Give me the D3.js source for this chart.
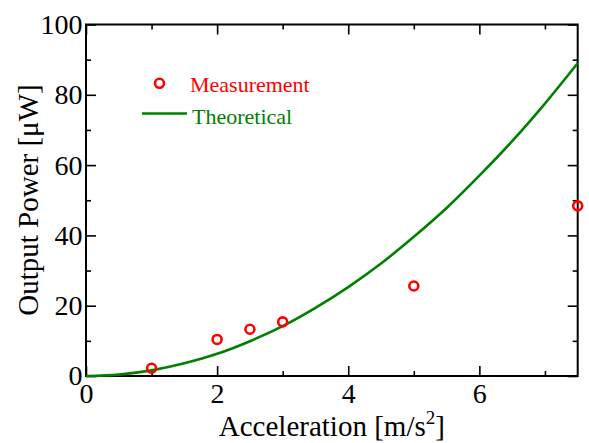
<!DOCTYPE html>
<html>
<head>
<meta charset="utf-8">
<script src="https://cdn.jsdelivr.net/npm/d3@7"></script>
<style>
  body { margin: 0; background: #fff; }
  text { font-family: "Liberation Serif", "Times New Roman", serif; }
</style>
</head>
<body>
<div id="chart"></div>
<script>
(function() {

// measured points
var measX = [1, 2, 2.5, 3, 5, 7.5];
var measY = [2.2, 10.4, 13.3, 15.4, 25.6, 48.4];

// theoretical curve
var theoX = [0, 0.5, 1, 1.5, 2, 2.5, 3, 3.5, 4, 4.5, 5, 5.5, 6, 6.5, 7, 7.5];
var theoY = [0, 0.4, 1.6, 3.6, 6.3, 9.9, 14.2, 19.4, 25.3, 32.0, 39.6, 47.8, 57.0, 66.8, 77.5, 89.0];

var xMajor = [0, 2, 4, 6];
var xMinor = [1, 3, 5, 7];
var yMajor = [0, 20, 40, 60, 80, 100];
var yMinor = [10, 30, 50, 70, 90];

var legendLabels = ['Measurement', 'Theoretical'];

var width = 589, height = 443;
var margin = {top: 24.5, right: 11.3, bottom: 67, left: 86};
var w = width - margin.left - margin.right;
var h = height - margin.top - margin.bottom;

var svg = d3.select('#chart')
    .append('svg')
    .attr('width', width)
    .attr('height', height);

var g = svg.append('g')
    .attr('transform', 'translate(' + margin.left + ',' + margin.top + ')');

var x = d3.scaleLinear().domain([0, 7.5]).range([0, w]);
var y = d3.scaleLinear().domain([0, 100]).range([h, 0]);

//axes with inward ticks
function styleAxis(sel) {
    sel.select('.domain').remove();
    sel.selectAll('line').attr('stroke', '#000').attr('stroke-width', 1.6);
    sel.selectAll('text').style('font-size', '28px').attr('fill', '#000');
}

g.append('g')
    .attr('transform', 'translate(0,' + h + ')')
    .call(d3.axisBottom(x).tickValues(xMajor).tickSize(-10).tickPadding(7).tickFormat(d3.format('d')))
    .call(styleAxis);
g.append('g')
    .attr('transform', 'translate(0,' + h + ')')
    .call(d3.axisBottom(x).tickValues(xMinor).tickSize(-5).tickFormat(''))
    .call(styleAxis);
g.append('g')
    .call(d3.axisTop(x).tickValues(xMajor).tickSize(-10).tickFormat(''))
    .call(styleAxis);
g.append('g')
    .call(d3.axisTop(x).tickValues(xMinor).tickSize(-5).tickFormat(''))
    .call(styleAxis);

g.append('g')
    .call(d3.axisLeft(y).tickValues(yMajor).tickSize(-10).tickPadding(3.5).tickFormat(d3.format('d')))
    .call(styleAxis);
g.append('g')
    .call(d3.axisLeft(y).tickValues(yMinor).tickSize(-5).tickFormat(''))
    .call(styleAxis);
g.append('g')
    .attr('transform', 'translate(' + w + ',0)')
    .call(d3.axisRight(y).tickValues(yMajor).tickSize(-10).tickFormat(''))
    .call(styleAxis);
g.append('g')
    .attr('transform', 'translate(' + w + ',0)')
    .call(d3.axisRight(y).tickValues(yMinor).tickSize(-5).tickFormat(''))
    .call(styleAxis);

//frame
g.append('rect')
    .attr('width', w)
    .attr('height', h)
    .attr('fill', 'none')
    .attr('stroke', '#000')
    .attr('stroke-width', 2);

//theoretical curve
var line = d3.line()
    .x(function(d, i) { return x(theoX[i]); })
    .y(function(d) { return y(d); })
    .curve(d3.curveMonotoneX);

g.append('path')
    .datum(theoY)
    .attr('d', line)
    .attr('fill', 'none')
    .attr('stroke', '#008000')
    .attr('stroke-width', 2.6);

//measured points
g.selectAll('.meas')
    .data(measY)
    .join('circle')
    .attr('class', 'meas')
    .attr('cx', function(d, i) { return x(measX[i]); })
    .attr('cy', function(d) { return y(d); })
    .attr('r', 4.5)
    .attr('fill', 'none')
    .attr('stroke', '#ff0000')
    .attr('stroke-width', 2.6);

//legend
svg.append('circle')
    .attr('cx', 159.5)
    .attr('cy', 83.3)
    .attr('r', 4.5)
    .attr('fill', 'none')
    .attr('stroke', '#ff0000')
    .attr('stroke-width', 2.6);
svg.append('text')
    .attr('x', 190)
    .attr('y', 92)
    .attr('fill', '#ff0000')
    .style('font-size', '22px')
    .text(legendLabels[0]);
svg.append('line')
    .attr('x1', 142).attr('x2', 187)
    .attr('y1', 113.5).attr('y2', 113.5)
    .attr('stroke', '#008000')
    .attr('stroke-width', 2.6);
svg.append('text')
    .attr('x', 192)
    .attr('y', 123.5)
    .attr('fill', '#008000')
    .style('font-size', '22px')
    .text(legendLabels[1]);

//axis titles
var xt = svg.append('text')
    .attr('x', margin.left + w / 2)
    .attr('y', 436)
    .attr('text-anchor', 'middle')
    .style('font-size', '29px');
xt.append('tspan').text('Acceleration [m/s');
xt.append('tspan').attr('dy', -12).style('font-size', '19px').text('2');
xt.append('tspan').attr('dy', 12).text(']');

svg.append('text')
    .attr('transform', 'translate(38,200) rotate(-90)')
    .attr('text-anchor', 'middle')
    .style('font-size', '29px')
    .text('Output Power [\u03bcW]');

})();
</script>
</body>
</html>
